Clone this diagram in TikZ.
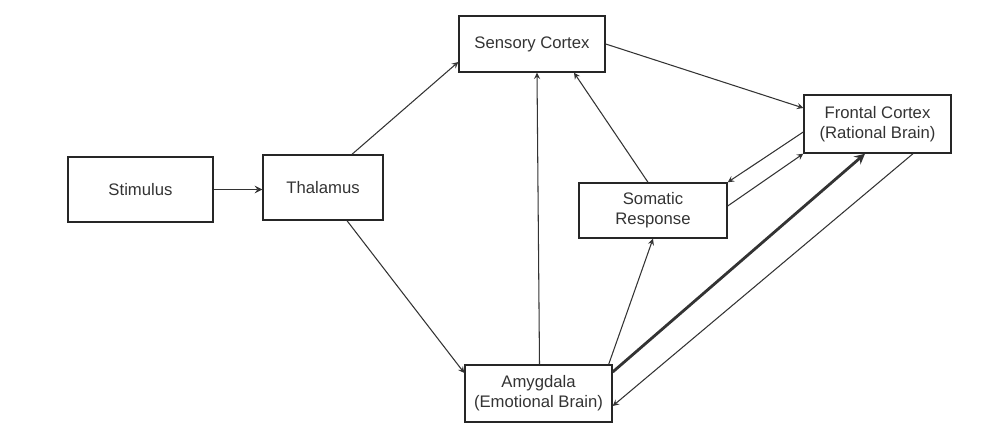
\documentclass[tikz,border=0pt]{standalone}
\usepackage{fontspec}
\setmainfont{Liberation Sans}
\usepackage{xcolor}
\begin{document}
\begin{tikzpicture}[box/.style={draw=black!85,line width=0.8pt,align=center,inner sep=0pt,text=black!80,font=\fontsize{9.5}{11.5}\selectfont},
	link/.style={-stealth,draw=black!80,line width=0.6pt}]
		\useasboundingbox (0,0) rectangle (20.02,8.58);
		\node (stim) at (2.81,4.79)[box,minimum width=2.9cm,minimum height=1.3cm]{Stimulus};
		\node (thal) at (6.46,4.83)[box,minimum width=2.4cm,minimum height=1.3cm]{Thalamus};
		\node (sens) at (10.64,7.70)[box,minimum width=2.92cm,minimum height=1.12cm]{Sensory Cortex};
		\node (front) at (17.55,6.10)[box,minimum width=2.94cm,minimum height=1.16cm]{Frontal Cortex\\(Rational Brain)};
		\node (soma) at (13.06,4.37)[box,minimum width=2.96cm,minimum height=1.1cm]{Somatic\\Response};
		\node (amyg) at (10.77,0.71)[box,minimum width=2.94cm,minimum height=1.14cm]{Amygdala\\(Emotional Brain)};
		\draw[link,line width=0.9pt](stim.east)--(stim.east-|thal.west);
		\draw[link]([xshift=0.58cm]thal.north)--([yshift=-0.36cm]sens.west);
		\draw[link]([xshift=0.48cm]thal.south)--([yshift=0.41cm]amyg.west);
		\draw[link]([xshift=0.02cm]amyg.north)--([xshift=0.1cm]sens.south);
		\draw[link]([xshift=-0.1cm]soma.north)--([xshift=0.84cm]sens.south);
		\draw[link](sens.east)--([yshift=0.32cm]front.west);
		\draw[link]([yshift=-0.16cm]front.west)--(soma.north east);
		\draw[link]([yshift=0.09cm]soma.east)--(front.south west);
		\draw[link]([xshift=-0.08cm]amyg.north east)--(soma.south);
		\draw[link,line width=1.6pt]([yshift=0.43cm]amyg.east)--([xshift=-0.25cm]front.south);
		\draw[link]([xshift=0.71cm]front.south)--([yshift=-0.25cm]amyg.east);
\end{tikzpicture}
\end{document}
